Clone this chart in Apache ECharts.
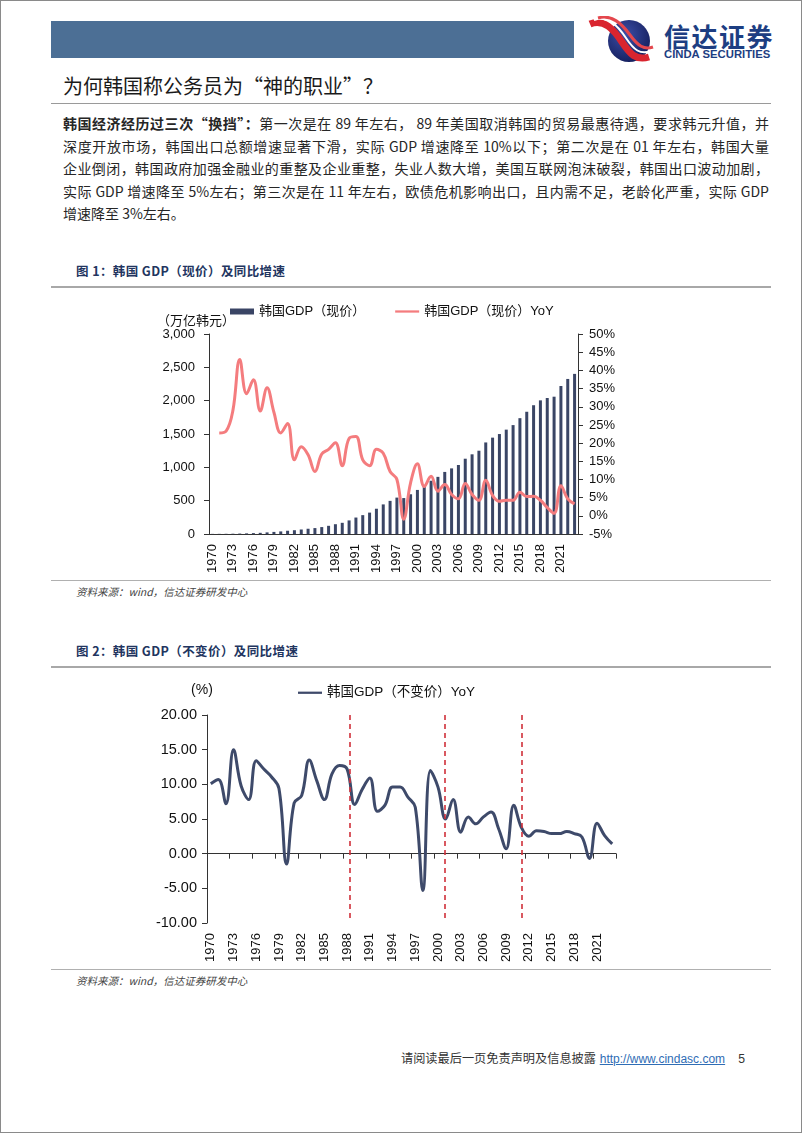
<!DOCTYPE html>
<html>
<head>
<meta charset="utf-8">
<script src="https://cdn.jsdelivr.net/npm/echarts@6/dist/echarts.min.js"></script>
<style>
  html, body { margin: 0; padding: 0; background: #fff; }
  #page { position: relative; width: 802px; height: 1133px; box-sizing: border-box; border: 1px solid #8a8a8a; overflow: hidden; font-family: "Noto Sans CJK SC", "Liberation Sans", sans-serif; }
  .abs { position: absolute; }
  #banner { left: 50px; top: 20px; width: 523px; height: 37px; background: #4C6F95; }
  #brand { left: 663px; top: 20px; color: #1D3E82; font-weight: 700; font-size: 26px; letter-spacing: 1.5px; line-height: 30px; }
  #brandEn { left: 663px; top: 47px; color: #1D3E82; font-family: "Liberation Sans", sans-serif; font-weight: 700; font-size: 11.3px; line-height: 12px; }
  #title { left: 62px; top: 72px; font-size: 20px; color: #1a1a1a; line-height: 26px; }
  .rule { position: absolute; left: 50px; width: 720px; height: 1px; background: #9a9a9a; }
  .para { position: absolute; left: 62px; width: 706px; font-size: 14px; color: #262626; line-height: 20px; text-align: justify; text-align-last: justify; white-space: nowrap; }
  .para.last { text-align-last: left; }
  .figt { position: absolute; left: 75px; font-size: 12.5px; font-weight: 700; color: #22355F; letter-spacing: 0.4px; }
  .src { position: absolute; left: 75px; font-size: 10.5px; font-style: italic; color: #444; }
  #footer { left: 400px; top: 1048px; font-size: 12.2px; color: #333; white-space: nowrap; }
  #footer a { color: #2F6DB5; text-decoration: underline; font-family: "Liberation Sans", sans-serif; font-size: 12px; margin-left: 1px; }
  #footer .pg { margin-left: 13px; font-family: "Liberation Sans", sans-serif; }
</style>
</head>
<body>
<div id="page">
  <div id="banner" class="abs"></div>
  <svg class="abs" style="left:583px;top:15px" width="72" height="48" viewBox="0 0 72 48">
    <defs>
      <radialGradient id="g1" cx="40%" cy="35%" r="70%">
        <stop offset="0%" stop-color="#3C4FA8"/>
        <stop offset="100%" stop-color="#141E5C"/>
      </radialGradient>
    </defs>
    <circle cx="45" cy="25" r="21" fill="url(#g1)"/>
    <path d="M6 8 C 20 2, 30 14, 38 26 S 52 45, 65 41" stroke="#D9252F" stroke-width="7" fill="none"/>
    <path d="M10 4 C 24 -1, 34 10, 42 22 S 56 39, 67 35" stroke="#ffffff" stroke-width="2" fill="none"/>
    <path d="M14 2 C 28 -2, 38 8, 46 19 S 60 34, 69 31" stroke="#E4474D" stroke-width="3" fill="none"/>
  </svg>
  <div id="brand" class="abs">信达证券</div>
  <div id="brandEn" class="abs">CINDA SECURITIES</div>

  <div id="title" class="abs">为何韩国称公务员为“神的职业”？</div>
  <div class="rule" style="top:102px"></div>

  <div class="para" style="top:112px"><b>韩国经济经历过三次“换挡”：</b>第一次是在 89 年左右， 89 年美国取消韩国的贸易最惠待遇，要求韩元升值，并</div>
  <div class="para" style="top:134.5px">深度开放市场，韩国出口总额增速显著下滑，实际 GDP 增速降至 10%以下；第二次是在 01 年左右，韩国大量</div>
  <div class="para" style="top:157px">企业倒闭，韩国政府加强金融业的重整及企业重整，失业人数大增，美国互联网泡沫破裂，韩国出口波动加剧，</div>
  <div class="para" style="top:179.5px">实际 GDP 增速降至 5%左右；第三次是在 11 年左右，欧债危机影响出口，且内需不足，老龄化严重，实际 GDP</div>
  <div class="para last" style="top:202px">增速降至 3%左右。</div>

  <div class="figt" style="top:260px">图 1：韩国 GDP（现价）及同比增速</div>
  <div class="rule" style="top:285px;height:2px;background:#a8a8a8"></div>
  <div id="c1" class="abs" style="left:140px;top:290px;width:500px;height:285px"></div>
  <div class="rule" style="top:579px;background:#b0b0b0"></div>
  <div class="src" style="top:583px">资料来源：wind，信达证券研发中心</div>

  <div class="figt" style="top:640px">图 2：韩国 GDP（不变价）及同比增速</div>
  <div class="rule" style="top:665px;height:2px;background:#a8a8a8"></div>
  <div id="c2" class="abs" style="left:140px;top:670px;width:500px;height:300px"></div>
  <div class="rule" style="top:968px;background:#b0b0b0"></div>
  <div class="src" style="top:972px">资料来源：wind，信达证券研发中心</div>

  <div id="footer" class="abs">请阅读最后一页免责声明及信息披露 <a>http://www.cindasc.com</a><span class="pg">5</span></div>
</div>
<script>
// ---------- data ----------
var years = [];
for (var y = 1970; y <= 2023; y++) years.push(String(y));

// 韩国GDP（现价），万亿韩元
var gdpNominal = [3, 3.5, 4.3, 5.6, 8, 10.7, 14.6, 18.8, 25.4, 32.5,
  40, 50, 58, 69, 80, 90, 105, 124, 148, 169,
  205, 248, 284, 322, 380, 445, 498, 547, 540, 597,
  662, 718, 800, 858, 932, 985, 1036, 1130, 1196, 1250,
  1374, 1446, 1500, 1566, 1634, 1738, 1834, 1932, 2005, 2040,
  2060, 2220, 2326, 2402];

// 韩国GDP（现价）YoY，%
var gdpNominalYoY = [null, 22.8, 23.3, 29.0, 43.0, 33.6, 37.4, 28.8, 35.2, 28.5,
  22.8, 25.4, 15.4, 19.0, 16.8, 12.2, 17.0, 18.3, 20.1, 13.8,
  21.3, 21.8, 15.4, 13.8, 18.3, 17.2, 12.2, 10.0, -0.9, 9.1,
  14.3, 8.1, 10.9, 6.8, 8.6, 5.9, 4.7, 8.9, 5.9, 4.3,
  9.8, 5.6, 4.0, 4.3, 4.3, 6.5, 5.3, 5.4, 4.3, 2.3,
  0.7, 8.3, 4.7, 3.3];

// 韩国GDP（不变价）YoY，%
var gdpRealYoY = [10.1, 10.7, 7.2, 15.0, 9.8, 7.8, 13.4, 12.2, 11.1, 9.4,
  -1.5, 7.3, 8.4, 13.5, 10.5, 7.8, 11.5, 12.7, 12.2, 7.1,
  9.3, 10.9, 6.1, 7.0, 9.6, 9.6, 8.2, 6.7, -5.3, 12.0,
  9.6, 5.0, 7.8, 3.1, 5.3, 4.3, 5.3, 6.0, 3.6, 0.7,
  7.0, 3.8, 2.5, 3.3, 3.2, 2.9, 2.9, 3.2, 2.9, 2.4,
  -0.7, 4.4, 2.6, 1.4];

// 换挡时点（年份位置）
var shiftYears = [1988.3, 2000.9, 2011.1];

var leftTicks = { min: 0, max: 3000, interval: 500 };
var rightTicks = { min: -5, max: 50, interval: 5 };
var realTicks = { min: -10, max: 20, interval: 5 };

// ---------- styles ----------
var FONT = '"Liberation Sans", "Noto Sans CJK SC", sans-serif';
var axisColor = '#333';
var navy = '#3A4565';
var pink = '#F47C7E';
var realColor = '#3E4A6A';
var lineIcon = 'path://M0,0 L32,0 L32,3 L0,3 Z';

var c1 = echarts.init(document.getElementById('c1'), null, { renderer: 'canvas' });
c1.setOption({
  animation: false,
  textStyle: { fontFamily: FONT },
  legend: {
    left: 84, top: 9, itemGap: 30, itemWidth: 24, itemHeight: 6,
    textStyle: { fontFamily: FONT, fontSize: 13, color: '#111' },
    data: [{ name: '韩国GDP（现价）', icon: 'rect' }, { name: '韩国GDP（现价）YoY', icon: lineIcon }]
  },
  grid: { left: 68, right: 63, top: 43, bottom: 40 },
  xAxis: {
    type: 'category', data: years, boundaryGap: true,
    axisLine: { lineStyle: { color: axisColor, width: 1 } },
    axisTick: { interval: 2, length: 5, lineStyle: { color: axisColor } },
    axisLabel: { interval: 2, rotate: 90, fontSize: 13, color: '#111', margin: 10, fontFamily: FONT }
  },
  yAxis: [{
    type: 'value', min: leftTicks.min, max: leftTicks.max, interval: leftTicks.interval,
    name: '（万亿韩元）', nameLocation: 'end', nameGap: 5,
    nameTextStyle: { fontSize: 13, color: '#111', fontFamily: FONT, padding: [0, 26, 0, 0] },
    splitLine: { show: false },
    axisLine: { show: true, lineStyle: { color: axisColor } },
    axisTick: { show: true, length: 5, lineStyle: { color: axisColor } },
    axisLabel: { fontSize: 13, color: '#111', margin: 14, fontFamily: FONT,
      formatter: function (v) { return v.toLocaleString('en-US'); } }
  }, {
    type: 'value', min: rightTicks.min, max: rightTicks.max, interval: rightTicks.interval,
    position: 'right',
    splitLine: { show: false },
    axisLine: { show: true, onZero: false, lineStyle: { color: axisColor } },
    axisTick: { show: true, length: 5, lineStyle: { color: axisColor } },
    axisLabel: { fontSize: 13, color: '#111', margin: 11, fontFamily: FONT, formatter: '{value}%' }
  }],
  series: [{
    name: '韩国GDP（现价）', type: 'bar', data: gdpNominal, yAxisIndex: 0,
    barWidth: 3, itemStyle: { color: navy }
  }, {
    name: '韩国GDP（现价）YoY', type: 'line', data: gdpNominalYoY, yAxisIndex: 1,
    smooth: 0.4, symbol: 'none', connectNulls: false,
    lineStyle: { color: pink, width: 3 }, itemStyle: { color: pink }
  }]
});

var c2 = echarts.init(document.getElementById('c2'), null, { renderer: 'canvas' });
var shiftLines = shiftYears.map(function (yr) {
  return [{ coord: [yr, realTicks.max] }, { coord: [yr, -9.5] }];
});
c2.setOption({
  animation: false,
  textStyle: { fontFamily: FONT },
  legend: {
    left: 152, top: 10, itemWidth: 24, itemHeight: 6,
    textStyle: { fontFamily: FONT, fontSize: 13.5, color: '#111' },
    data: [{ name: '韩国GDP（不变价）YoY', icon: lineIcon }]
  },
  grid: { left: 66, right: 25, top: 44, bottom: 48 },
  xAxis: [{
    type: 'category', data: years, boundaryGap: true, position: 'bottom',
    axisLine: { show: false, onZero: false },
    axisTick: { show: false },
    axisLabel: { interval: 2, rotate: 90, fontSize: 13, color: '#111', margin: 10, fontFamily: FONT }
  }, {
    type: 'category', data: years, boundaryGap: true, position: 'bottom',
    axisLine: { show: true, onZero: true, lineStyle: { color: axisColor } },
    axisTick: { show: true, interval: 2, length: 5, lineStyle: { color: axisColor } },
    axisLabel: { show: false }
  }, {
    type: 'value', min: 1969.5, max: 2023.5, show: false
  }],
  yAxis: {
    type: 'value', min: realTicks.min, max: realTicks.max, interval: realTicks.interval,
    name: '(%)', nameLocation: 'end', nameGap: 18,
    nameTextStyle: { fontSize: 14, color: '#111', fontFamily: FONT, padding: [0, 10, 0, 0] },
    splitLine: { show: false },
    axisLine: { show: true, onZero: false, lineStyle: { color: axisColor } },
    axisTick: { show: true, length: 5, lineStyle: { color: axisColor } },
    axisLabel: { fontSize: 14.5, color: '#111', margin: 10, fontFamily: FONT,
      formatter: function (v) { return v.toFixed(2); } }
  },
  series: [{
    name: '韩国GDP（不变价）YoY', type: 'line', data: gdpRealYoY, xAxisIndex: 0,
    smooth: 0.4, symbol: 'none',
    lineStyle: { color: realColor, width: 3 }, itemStyle: { color: realColor }
  }, {
    name: 'shift', type: 'line', data: [], xAxisIndex: 2,
    markLine: {
      silent: true, symbol: 'none', label: { show: false },
      lineStyle: { color: '#D0303A', type: [5, 4], width: 1.6 },
      data: shiftLines
    }
  }]
});
</script>
</body>
</html>
